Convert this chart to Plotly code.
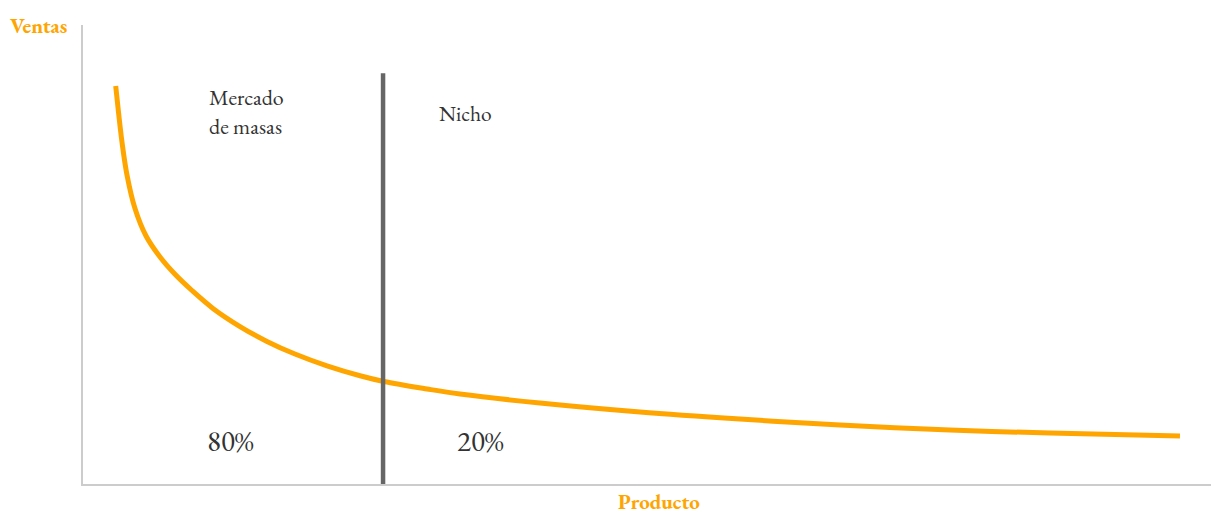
import plotly.graph_objects as go

# Curve values (product rank vs. sales)
producto = [2.90, 3.15, 3.46, 3.90, 4.61, 5.59, 6.83, 8.16, 9.66, 11.52, 13.92,
            16.31, 18.79, 21.63, 24.56, 26.68, 30.50, 33.42, 40.51, 49.38, 58.24,
            67.11, 76.86, 85.73, 97.25]
ventas = [86.71, 80.92, 74.42, 67.34, 60.02, 54.03, 49.46, 45.69, 42.16, 38.26, 34.31,
          31.07, 28.32, 25.75, 23.59, 22.33, 20.70, 19.61, 17.65, 15.69, 14.16,
          12.85, 11.76, 11.11, 10.46]

corte_x = 26.6
corte_y = [0, 89.5]

ORANGE = "#FFA500"
SERIF = "EB Garamond, Garamond, Liberation Serif, DejaVu Serif, serif"

fig = go.Figure()
fig.add_trace(go.Scatter(x=producto, y=ventas, mode="lines",
                         line=dict(color=ORANGE, width=5, shape="spline", smoothing=1.0),
                         hoverinfo="skip", showlegend=False))
fig.add_trace(go.Scatter(x=[corte_x, corte_x], y=corte_y, mode="lines",
                         line=dict(color="#666666", width=4.5),
                         hoverinfo="skip", showlegend=False))

txt = dict(family=SERIF, color="#333333")
fig.add_annotation(x=11.0, y=81.0, xref="x", yref="y", text="Mercado<br>de masas",
                   showarrow=False, xanchor="left", yanchor="middle", align="left",
                   font=dict(size=22, **txt))
fig.add_annotation(x=31.4, y=80.8, xref="x", yref="y", text="Nicho",
                   showarrow=False, xanchor="left", yanchor="middle",
                   font=dict(size=21.5, **txt))
fig.add_annotation(x=10.85, y=9.4, xref="x", yref="y", text="80%",
                   showarrow=False, xanchor="left", yanchor="middle",
                   font=dict(size=29, **txt))
fig.add_annotation(x=32.95, y=9.4, xref="x", yref="y", text="20%",
                   showarrow=False, xanchor="left", yanchor="middle",
                   font=dict(size=29, **txt))
fig.add_annotation(x=-0.0665, y=1.0, xref="paper", yref="paper", text="<b>Ventas</b>",
                   showarrow=False, xanchor="left", yanchor="middle",
                   font=dict(size=21, family=SERIF, color=ORANGE))
fig.add_annotation(x=0.5106, y=-0.0392, xref="paper", yref="paper", text="<b>Producto</b>",
                   showarrow=False, xanchor="center", yanchor="middle", borderpad=0,
                   font=dict(size=21, family=SERIF, color=ORANGE))

fig.update_layout(
    width=1221, height=516,
    margin=dict(l=83, r=10, t=25, b=32),
    paper_bgcolor="white", plot_bgcolor="white",
    xaxis=dict(range=[0, 100], showgrid=False, zeroline=False, showticklabels=False,
               ticks="", showline=True, linecolor="#cccccc", linewidth=2, fixedrange=True),
    yaxis=dict(range=[0, 100], showgrid=False, zeroline=False, showticklabels=False,
               ticks="", showline=True, linecolor="#cccccc", linewidth=2, fixedrange=True),
)

fig.write_html("out.html")
